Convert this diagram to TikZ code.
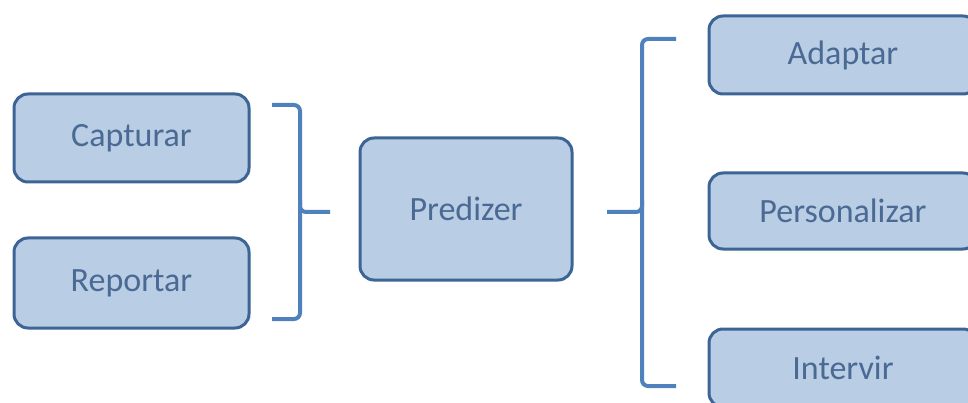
\documentclass[tikz,border=0pt]{standalone}
\usepackage{fontspec}
\setmainfont{Carlito}
\definecolor{boxfill}{HTML}{B9CDE5}
\definecolor{boxline}{HTML}{3C6494}
\definecolor{boxtext}{HTML}{4A6A94}
\definecolor{braceline}{HTML}{4F81BD}

\begin{document}
\begin{tikzpicture}[x=1pt,y=-1pt,
        stage/.style={draw=boxline,fill=boxfill,line width=3pt,rounded corners=14pt,
                text=boxtext,font=\fontsize{34}{40}\selectfont,inner sep=0pt},
        brace/.style={draw=braceline,line width=4pt,rounded corners=6pt}]
        \useasboundingbox (0,0) rectangle (968,403);
        \clip (0,0) rectangle (968,403);
        \node[stage,minimum width=235pt,minimum height=88pt] (cap) at (131.5,138) {Capturar};
        \node[stage,minimum width=235pt,minimum height=90pt] (rep) at (131.5,283) {Reportar};
        \node[stage,minimum width=212pt,minimum height=142pt] (pred) at (466,209) {Predizer};
        \node[stage,minimum width=268pt,minimum height=78pt] (ada) at (843,55) {Adaptar};
        \node[stage,minimum width=268pt,minimum height=76pt] (pers) at (843,211) {Personalizar};
        \node[stage,minimum width=268pt,minimum height=78pt] (int) at (843,368) {Intervir};
        % braces
        \coordinate (lt) at (272,105);
        \coordinate (lb) at (272,319);
        \coordinate (ltip) at (330,212);
        \coordinate (rt) at (676,39);
        \coordinate (rb) at (676,386);
        \coordinate (rtip) at (607,212);
        \draw[brace] (lt) -- (300,105) -- (300,212) -- (300,319) -- (lb);
        \draw[brace] (300,200) -- (300,212) -- (ltip);
        \draw[brace] (rt) -- (642,39) -- (642,212) -- (642,386) -- (rb);
        \draw[brace] (642,200) -- (642,212) -- (rtip);
\end{tikzpicture}
\end{document}
